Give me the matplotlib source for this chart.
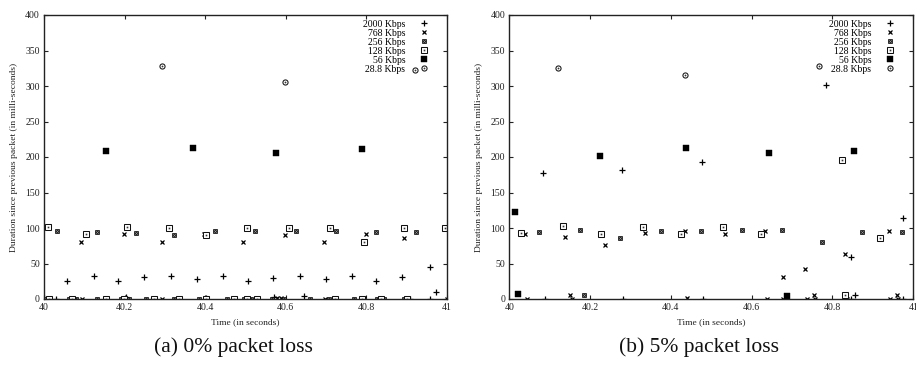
import matplotlib
matplotlib.use('Agg')
import matplotlib.pyplot as plt
from matplotlib.lines import Line2D
from matplotlib.legend_handler import HandlerTuple

plt.rcParams['font.family'] = ['Liberation Serif', 'DejaVu Serif']

series_labels = ['2000 Kbps', '768 Kbps', '256 Kbps', '128 Kbps', '56 Kbps', '28.8 Kbps']
xtick_vals = [40, 40.2, 40.4, 40.6, 40.8, 41]
xtick_labels = ['40', '40.2', '40.4', '40.6', '40.8', '41']
ytick_vals = [0, 50, 100, 150, 200, 250, 300, 350, 400]
captions = ['(a) 0% packet loss', '(b) 5% packet loss']
xlabel = 'Time (in seconds)'
ylabel = 'Duration since previous packet (in milli-seconds)'

# ---------------- panel (a): 0% packet loss ----------------
a_2000_t = [40.057, 40.123, 40.183, 40.248, 40.316, 40.379, 40.445, 40.505, 40.568, 40.636,
            40.699, 40.764, 40.825, 40.889, 40.958, 40.973, 40.645, 40.001, 40.029, 40.203,
            40.403, 40.570, 40.909, 40.958]
a_2000_d = [25, 32, 26, 30.5, 33, 28.6, 32, 26, 29.6, 33,
            27.7, 32, 26, 30.5, 45.5, 9.4, 4.7, 2, 0, 3,
            2, 3, 0, 0]
a_768_t = [40.092, 40.198, 40.293, 40.398, 40.494, 40.599, 40.694, 40.799, 40.893,
           40.095, 40.294, 40.579, 40.587, 40.698, 40.793, 41.0]
a_768_d = [80, 91.5, 80, 91, 80, 90, 80, 91, 86,
           0, 0, 2, 1, 0, 2, 0]
a_256_t = [40.033, 40.132, 40.229, 40.323, 40.424, 40.524, 40.625, 40.725, 40.825, 40.923, 40.998,
           40.005, 40.062, 40.079, 40.132, 40.190, 40.211, 40.252, 40.322, 40.385, 40.405,
           40.455, 40.497, 40.513, 40.525, 40.565, 40.595, 40.661, 40.707, 40.769, 40.827,
           40.843, 40.893]
a_256_d = [96, 95, 92.5, 90, 96, 96, 96, 96, 95, 95, 99.5,
           0, 0, 0, 0, 0, 0, 0, 0, 0, 0,
           0, 0, 0, 0, 0, 0, 0, 0, 0, 0,
           0, 0]
a_128_t = [40.011, 40.105, 40.207, 40.310, 40.402, 40.504, 40.608, 40.709, 40.793, 40.894, 40.996,
           40.012, 40.070, 40.153, 40.198, 40.273, 40.335, 40.401, 40.471, 40.504, 40.529,
           40.723, 40.789, 40.835, 40.901]
a_128_d = [101, 91, 101, 99.5, 90, 99.5, 99.5, 99.5, 80, 99.5, 99.5,
           0, 0, 0, 0, 0, 0, 0, 0, 0, 0,
           0, 0, 0, 0]
a_56_t = [40.155, 40.369, 40.575, 40.788]
a_56_d = [208.5, 212, 205, 211]
a_288_t = [40.293, 40.599, 40.921]
a_288_d = [328, 305, 322]

# ---------------- panel (b): 5% packet loss ----------------
b_2000_t = [40.084, 40.279, 40.477, 40.784, 40.846, 40.974,
            40.088, 40.282, 40.479, 40.847, 40.856, 40.975]
b_2000_d = [178, 181, 192.5, 302, 58.7, 113.6,
            0, 0, 0, 0, 5.6, 0]
b_768_t = [40.039, 40.139, 40.238, 40.337, 40.436, 40.535, 40.634, 40.678, 40.733, 40.832, 40.939,
           40.043, 40.150, 40.154, 40.441, 40.637, 40.678, 40.736, 40.754, 40.757, 40.835,
           40.942, 40.960, 40.963]
b_768_d = [92, 88, 76, 93, 96, 92, 96, 31, 42, 63, 96,
           0, 6, 0, 1, 0, 0, 0, 6, 0, 0,
           0, 6, 0]
b_256_t = [40.074, 40.174, 40.275, 40.375, 40.475, 40.575, 40.675, 40.774, 40.873, 40.973,
           40.186, 40.687]
b_256_d = [95, 97.7, 85.5, 96, 96, 97.7, 96.7, 80, 95, 94,
           5.6, 1]
b_128_t = [40.028, 40.134, 40.228, 40.332, 40.426, 40.530, 40.624, 40.823, 40.917, 40.831]
b_128_d = [93, 103, 92, 102, 92, 102, 92, 196, 85.5, 5.6]
b_56_t = [40.015, 40.022, 40.225, 40.437, 40.644, 40.854, 40.687]
b_56_d = [122, 6.6, 201, 212, 205, 209, 4.7]
b_288_t = [40.120, 40.436, 40.766]
b_288_d = [326, 315, 328]


def styles(kind):
    """Return list of marker style dicts layered for a series."""
    if kind == 0:
        return [dict(marker='+', ms=3.8, mew=0.9, color='black')]
    if kind == 1:
        return [dict(marker='x', ms=3.0, mew=0.9, color='black')]
    if kind == 2:
        return [dict(marker='s', ms=3.4, mfc='#111111', mec='#111111', mew=0.5),
                dict(marker='x', ms=2.0, mew=0.4, color='#999999')]
    if kind == 3:
        return [dict(marker='s', ms=3.7, mfc='white', mec='#111111', mew=0.75),
                dict(marker='s', ms=1.2, mfc='#333333', mec='#333333', mew=0)]
    if kind == 4:
        return [dict(marker='s', ms=4.4, mfc='black', mec='black', mew=0.3)]
    return [dict(marker='o', ms=3.7, mfc='white', mec='#111111', mew=0.75),
            dict(marker='o', ms=1.3, mfc='#333333', mec='#333333', mew=0)]


def draw_panel(ax, data):
    for kind, (t, d) in enumerate(data):
        for st in styles(kind):
            ax.plot(t, d, linestyle='none', **st)
    ax.set_xlim(40, 41)
    ax.set_ylim(0, 400)
    ax.set_xticks(xtick_vals)
    ax.set_xticklabels(xtick_labels)
    ax.set_yticks(ytick_vals)
    ax.tick_params(direction='in', length=3, width=0.8, top=True, right=True,
                   labelsize=7, colors='#222222', pad=3)
    for s in ax.spines.values():
        s.set_linewidth(1.0)
        s.set_color('#222222')
    ax.set_xlabel(xlabel, fontsize=6.8, labelpad=4, color='#222222')
    ax.set_ylabel(ylabel, fontsize=6.8, labelpad=5, color='#222222')
    handles = []
    for kind in range(6):
        handles.append(tuple(Line2D([], [], linestyle='none', **st) for st in styles(kind)))
    ax.legend(handles, series_labels, loc='upper right', bbox_to_anchor=(0.954, 0.984),
              markerfirst=False, frameon=False, fontsize=7, labelspacing=0.0,
              handlelength=1.0, handletextpad=1.4, borderaxespad=0, borderpad=0,
              handler_map={tuple: HandlerTuple(ndivide=1, pad=0)})


fig = plt.figure(figsize=(9.16, 3.73), dpi=100)
ax_a = fig.add_axes([44 / 916, 1 - 299 / 373, 403 / 916, 284 / 373])
ax_b = fig.add_axes([509.3 / 916, 1 - 299 / 373, 404 / 916, 284 / 373])

draw_panel(ax_a, [(a_2000_t, a_2000_d), (a_768_t, a_768_d), (a_256_t, a_256_d),
                  (a_128_t, a_128_d), (a_56_t, a_56_d), (a_288_t, a_288_d)])
draw_panel(ax_b, [(b_2000_t, b_2000_d), (b_768_t, b_768_d), (b_256_t, b_256_d),
                  (b_128_t, b_128_d), (b_56_t, b_56_d), (b_288_t, b_288_d)])

fig.text(233 / 916, 1 - 347 / 373, captions[0], ha='center', va='center', fontsize=15.5, color='#111111')
fig.text(699 / 916, 1 - 347 / 373, captions[1], ha='center', va='center', fontsize=15.5, color='#111111')

fig.savefig('out.png', dpi=100)
